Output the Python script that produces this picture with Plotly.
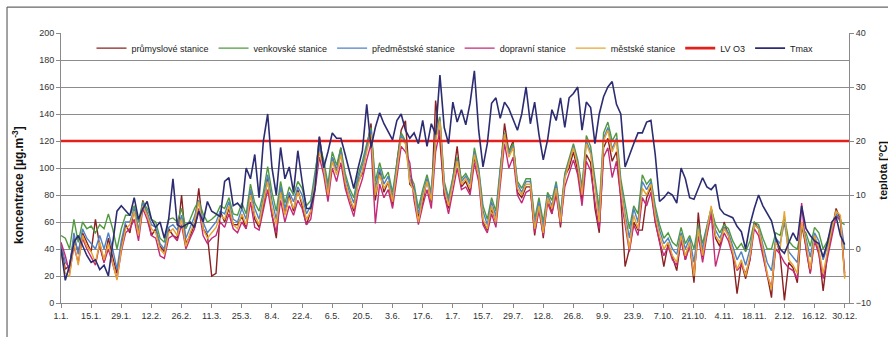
import pandas as pd
import plotly.graph_objects as go

# Daily ozone concentrations (every second day) for 2012, station categories
start = "2012-01-01"
step_days = 2

prumyslove = [
    42, 25, 28, 48, 38, 52, 45, 38, 62, 42, 30, 48, 34, 22, 42, 58,
    52, 70, 52, 76, 66, 50, 55, 42, 38, 55, 50, 48, 80, 44, 50, 58,
    85, 55, 50, 20, 22, 68, 60, 70, 58, 58, 64, 55, 84, 62, 56, 72,
    92, 65, 48, 86, 66, 80, 68, 84, 72, 58, 68, 92, 123, 100, 79, 108,
    98, 115, 88, 78, 68, 90, 96, 115, 133, 76, 98, 82, 90, 72, 104, 128,
    135, 88, 84, 64, 74, 92, 74, 150, 120, 80, 70, 92, 116, 86, 90, 82,
    108, 96, 60, 54, 70, 60, 98, 133, 112, 120, 82, 78, 86, 86, 50, 74,
    48, 80, 66, 86, 56, 94, 100, 112, 98, 76, 110, 104, 70, 52, 115, 122,
    105, 112, 78, 27, 40, 60, 54, 54, 78, 86, 60, 46, 27, 44, 34, 24,
    48, 32, 44, 15, 67, 34, 52, 70, 48, 42, 60, 50, 36, 7, 30, 18,
    32, 60, 55, 38, 20, 4, 48, 36, 2, 30, 26, 15, 58, 42, 22, 50,
    38, 9, 36, 54, 70, 62, 20,
]

venkovske = [
    50, 48, 40, 62, 45, 60, 55, 57, 52, 58, 55, 66, 55, 40, 55, 65,
    65, 72, 60, 75, 70, 62, 60, 48, 45, 62, 63, 60, 70, 55, 62, 70,
    76, 66, 60, 62, 65, 72, 70, 78, 66, 65, 74, 66, 88, 74, 68, 82,
    101, 82, 68, 90, 74, 86, 80, 90, 85, 72, 76, 98, 118, 106, 88, 112,
    102, 115, 96, 85, 78, 95, 105, 118, 130, 90, 104, 92, 97, 82, 106, 126,
    120, 95, 88, 70, 84, 95, 82, 124, 138, 90, 78, 92, 108, 92, 96, 90,
    115, 100, 72, 62, 78, 68, 100, 126, 112, 118, 90, 85, 92, 92, 62, 78,
    60, 82, 76, 90, 66, 96, 108, 118, 106, 86, 124, 116, 92, 70, 126, 134,
    120, 126, 92, 72, 55, 72, 66, 95, 88, 92, 72, 58, 48, 52, 45, 42,
    56, 44, 50, 40, 58, 44, 58, 70, 58, 52, 58, 55, 46, 40, 44, 38,
    46, 60, 58, 48, 40, 40, 52, 50, 64, 46, 42, 40, 56, 52, 42, 56,
    52, 40, 46, 56, 66, 60, 58,
]

predmestske = [
    44, 30, 26, 52, 36, 55, 48, 44, 40, 50, 40, 52, 40, 25, 46, 60,
    60, 70, 54, 74, 67, 58, 56, 44, 40, 56, 58, 54, 65, 48, 56, 64,
    76, 60, 52, 56, 60, 68, 66, 75, 62, 60, 70, 62, 84, 70, 62, 78,
    95, 76, 62, 86, 70, 82, 75, 86, 80, 66, 72, 94, 115, 103, 84, 108,
    98, 112, 93, 82, 74, 92, 102, 115, 128, 85, 100, 88, 94, 78, 103, 124,
    119, 92, 85, 66, 80, 92, 80, 122, 136, 88, 75, 90, 106, 90, 94, 88,
    112, 98, 68, 58, 75, 64, 98, 125, 110, 116, 88, 82, 90, 90, 58, 75,
    56, 80, 72, 88, 64, 94, 106, 116, 104, 84, 120, 112, 88, 64, 122, 130,
    114, 122, 88, 66, 48, 70, 60, 90, 84, 90, 68, 54, 44, 48, 40, 36,
    52, 40, 48, 30, 56, 40, 56, 70, 54, 48, 56, 52, 42, 32, 38, 28,
    40, 58, 56, 44, 30, 24, 48, 44, 60, 38, 34, 30, 58, 48, 34, 52,
    46, 32, 42, 55, 66, 62, 40,
]

dopravni = [
    45, 35, 22, 42, 30, 48, 40, 34, 28, 44, 30, 40, 28, 18, 38, 52,
    55, 62, 46, 70, 62, 50, 48, 35, 33, 48, 50, 46, 58, 40, 48, 55,
    70, 50, 44, 48, 50, 60, 56, 66, 55, 52, 60, 55, 75, 56, 54, 68,
    84, 65, 52, 76, 60, 72, 65, 76, 70, 58, 62, 84, 108, 95, 75, 100,
    90, 104, 85, 74, 64, 82, 92, 106, 118, 59, 88, 78, 84, 70, 94, 116,
    112, 104, 76, 58, 72, 84, 70, 112, 128, 80, 66, 82, 100, 84, 86, 80,
    104, 90, 58, 52, 66, 56, 88, 118, 100, 108, 80, 74, 82, 84, 52, 68,
    50, 74, 66, 80, 58, 86, 96, 106, 95, 72, 105, 98, 75, 55, 108, 115,
    93, 105, 78, 58, 38, 58, 50, 78, 72, 82, 60, 45, 35, 42, 32, 28,
    46, 32, 42, 22, 50, 30, 50, 66, 27, 40, 52, 46, 34, 24, 28, 22,
    32, 55, 50, 36, 20, 12, 40, 36, 30, 26, 24, 18, 74, 40, 22, 46,
    36, 18, 34, 50, 64, 62, 22,
]

mestske = [
    38, 22, 20, 45, 28, 50, 42, 38, 30, 45, 32, 44, 30, 17, 40, 55,
    58, 68, 50, 72, 65, 55, 52, 40, 36, 52, 55, 50, 62, 42, 52, 60,
    75, 55, 48, 52, 56, 65, 62, 72, 58, 55, 66, 58, 80, 65, 58, 75,
    90, 70, 58, 82, 65, 78, 70, 82, 75, 62, 68, 90, 112, 100, 80, 105,
    95, 110, 90, 78, 70, 88, 98, 112, 125, 80, 95, 85, 90, 75, 100, 122,
    118, 90, 82, 60, 78, 90, 76, 120, 135, 85, 72, 88, 105, 88, 92, 85,
    110, 95, 62, 55, 72, 60, 95, 125, 108, 115, 85, 80, 88, 88, 55, 72,
    52, 78, 70, 85, 60, 92, 104, 115, 102, 80, 118, 110, 85, 60, 120, 128,
    112, 120, 85, 62, 40, 65, 55, 85, 80, 88, 65, 50, 40, 45, 35, 30,
    50, 35, 45, 20, 55, 35, 55, 72, 50, 45, 55, 50, 38, 25, 32, 20,
    35, 58, 55, 40, 22, 10, 45, 40, 68, 32, 28, 22, 60, 45, 25, 50,
    40, 22, 38, 55, 68, 65, 18,
]

# Daily maximum temperature [°C]
tmax = [
    0, -5.8, -3, 1.2, 2.5, 0.5, -1.2, -2.5, -2, -3.8, -3, -5, 1.2, 7, 8, 7,
    6.2, 9.5, 5.5, 7.5, 8.8, 5.5, 4, 5, 2, 5.5, 13, 4.5, 4, 4.5, 5, 4,
    7, 5, 8.8, 7, 6.5, 6, 12.5, 13.2, 8, 8.5, 7.5, 15, 13, 17.5, 9.5, 20,
    25, 15, 10, 18.8, 13, 15.2, 10.5, 18.2, 12.5, 7.5, 7.5, 11.2, 20.8, 15, 18, 21.5,
    20.5, 20.5, 17.5, 14.5, 11.2, 15, 18.2, 26.8, 18.8, 22.5, 25.2, 23.2, 21.8, 20.2, 23.8, 25,
    22, 20.5, 21.5, 19.5, 23.8, 19, 23.2, 21.2, 32.2, 22.5, 19.5, 27.2, 23.5, 25.8, 23, 27,
    33, 22, 15.2, 19.5, 27, 28, 24.2, 27.2, 26, 23.8, 22, 25, 30, 23.2, 27.2, 21.2,
    16.5, 20.2, 25.8, 23.8, 28, 22.5, 28, 28.8, 30, 22, 27.2, 26.2, 19.5, 25, 28.2, 30,
    31, 26.8, 25, 15.2, 17.5, 19.5, 21.5, 21.5, 23.5, 23.8, 17.5, 8.8, 9.5, 10.5, 10, 8.5,
    15, 13, 9.5, 9.2, 11.2, 13.2, 11.5, 11, 12, 7.5, 6.5, 6.2, 5.8, 4.2, 3.2, 0,
    4.5, 7.5, 10, 8, 6.5, 5.2, 2, 0, -0.8, 1.2, 3, 1.5, 8, 3.8, 2.5, 1.5,
    1, -1.5, 1.2, 5, 6, 2.5, 0.8,
]

# Limit value for ozone [µg.m-3]
lv_o3 = 120

tick_labels = [
    "1.1.", "15.1.", "29.1.", "12.2.", "26.2.", "11.3.", "25.3.", "8.4.", "22.4.",
    "6.5.", "20.5.", "3.6.", "17.6.", "1.7.", "15.7.", "29.7.", "12.8.", "26.8.",
    "9.9.", "23.9.", "7.10.", "21.10.", "4.11.", "18.11.", "2.12.", "16.12.", "30.12.",
]

n = len(mestske)
for s in (prumyslove, venkovske, predmestske, dopravni, tmax):
    if len(s) != n:
        raise ValueError("series length mismatch")

dates = pd.date_range(start, periods=n, freq=f"{step_days}D")
tick_vals = pd.date_range(start, periods=len(tick_labels), freq="14D")

FONT = "Liberation Sans, Arial, sans-serif"

series = [
    ("průmyslové stanice", prumyslove, "#8a2020"),
    ("venkovské stanice", venkovske, "#4f9a3f"),
    ("předměstské stanice", predmestske, "#4f82c4"),
    ("dopravní stanice", dopravni, "#c42a78"),
    ("městské stanice", mestske, "#e6a430"),
]

fig = go.Figure()
for name, vals, color in series:
    fig.add_trace(go.Scatter(x=dates, y=vals, name=name, mode="lines",
                             line=dict(color=color, width=1.4)))

fig.add_trace(go.Scatter(x=[dates[0], pd.Timestamp("2013-01-01")], y=[lv_o3, lv_o3],
                         name="LV O3", mode="lines",
                         line=dict(color="#e3201b", width=2.6)))
fig.add_trace(go.Scatter(x=dates, y=tmax, name="Tmax", mode="lines", yaxis="y2",
                         line=dict(color="#2c2c72", width=1.6)))

axis_common = dict(showline=True, linecolor="#8a8a8a", linewidth=1,
                   ticks="outside", ticklen=4, tickcolor="#8a8a8a",
                   tickfont=dict(size=9, color="#333", family=FONT), zeroline=False)

fig.update_layout(
    width=888, height=337,
    margin=dict(l=61, r=39, t=33, b=34),
    paper_bgcolor="white", plot_bgcolor="white",
    font=dict(family=FONT, color="#222"),
    showlegend=True,
    legend=dict(orientation="h", x=0.5, xanchor="center", y=0.944, yanchor="middle",
                font=dict(size=9, color="#222", family=FONT),
                bgcolor="rgba(255,255,255,0)", itemwidth=30),
    xaxis=dict(range=[pd.Timestamp("2012-01-01"), pd.Timestamp("2013-01-01")],
               tickvals=tick_vals, ticktext=tick_labels, showgrid=False, **axis_common),
    yaxis=dict(range=[0, 200], dtick=20, showgrid=True, gridcolor="#8c8c8c",
               gridwidth=1, **axis_common),
    yaxis2=dict(range=[-10, 40], dtick=10, overlaying="y", side="right",
                showgrid=False, **axis_common),
    annotations=[
        dict(text="<b>koncentrace [µg.m<sup>-3</sup>]</b>", xref="paper", yref="paper",
             x=-0.0546, y=0.437, textangle=-90, showarrow=False,
             font=dict(size=12, color="#111", family=FONT),
             xanchor="center", yanchor="middle"),
        dict(text="<b>teplota [°C]</b>", xref="paper", yref="paper",
             x=1.043, y=0.493, textangle=-90, showarrow=False,
             font=dict(size=11, color="#111", family=FONT),
             xanchor="center", yanchor="middle"),
    ],
    shapes=[
        dict(type="line", xref="paper", yref="paper", x0=-0.0685, x1=1.06, y0=1.096, y1=1.096,
             line=dict(color="#666", width=1.2)),
        dict(type="line", xref="paper", yref="paper", x0=-0.0685, x1=-0.0685, y0=1.096, y1=-0.14,
             line=dict(color="#666", width=1.2)),
    ],
)

fig.write_html("out.html")
